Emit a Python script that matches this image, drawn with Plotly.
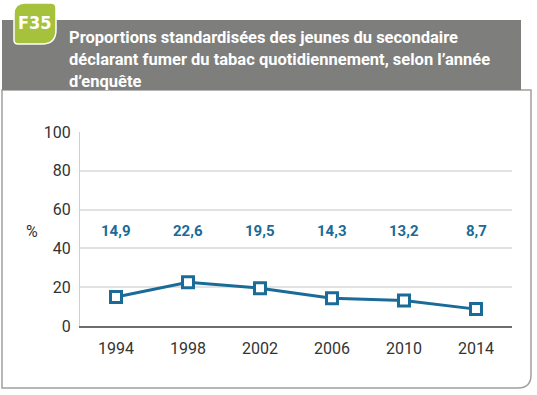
import plotly.graph_objects as go

years = ["1994", "1998", "2002", "2006", "2010", "2014"]
values = [14.9, 22.6, 19.5, 14.3, 13.2, 8.7]
value_labels = ["14,9", "22,6", "19,5", "14,3", "13,2", "8,7"]
y_ticks = [0, 20, 40, 60, 80, 100]
title_lines = [
    "Proportions standardisées des jeunes du secondaire",
    "déclarant fumer du tabac quotidiennement, selon l’année",
    "d’enquête",
]
badge = "F35"

W, H = 537, 395
L, R, T, B = 80, 512, 132, 326
BLUE = "#1b6b98"
FONT = "Roboto, Open Sans, sans-serif"
BFONT = "DejaVu Sans Condensed, Roboto, sans-serif"


def px(x):
    return (x - L) / (R - L)


def py(y):
    return (B - y) / (B - T)


fig = go.Figure()
fig.add_trace(go.Scatter(
    x=years, y=values, mode="lines+markers",
    line=dict(color=BLUE, width=3),
    marker=dict(symbol="square", size=11, color="white",
                line=dict(color=BLUE, width=3)),
    hoverinfo="skip", showlegend=False, cliponaxis=False,
))

shapes = []
r = 13
x0, x1, y0, y1 = 2, 531, 90, 388
path = (f"M {px(x0)},{py(y0)} L {px(x1)},{py(y0)} L {px(x1)},{py(y1 - r)} "
        f"Q {px(x1)},{py(y1)} {px(x1 - r)},{py(y1)} L {px(x0)},{py(y1)} Z")
shapes.append(dict(type="path", xref="paper", yref="paper", path=path,
                   line=dict(color="#a0a0a0", width=1.5), fillcolor="rgba(0,0,0,0)",
                   layer="below"))
shapes.append(dict(type="rect", xref="paper", yref="paper",
                   x0=px(2), x1=px(521), y0=py(90), y1=py(20),
                   line=dict(width=0), fillcolor="#7e7e7c", layer="below"))
bx0, bx1, by0, by1 = 14, 56, 3, 44
rtl, rtr, rbr, rbl = 11, 5, 14, 4
bpath = (f"M {px(bx0 + rtl)},{py(by0)} L {px(bx1 - rtr)},{py(by0)} "
         f"Q {px(bx1)},{py(by0)} {px(bx1)},{py(by0 + rtr)} "
         f"L {px(bx1)},{py(by1 - rbr)} Q {px(bx1)},{py(by1)} {px(bx1 - rbr)},{py(by1)} "
         f"L {px(bx0 + rbl)},{py(by1)} Q {px(bx0)},{py(by1)} {px(bx0)},{py(by1 - rbl)} "
         f"L {px(bx0)},{py(by0 + rtl)} Q {px(bx0)},{py(by0)} {px(bx0 + rtl)},{py(by0)} Z")
shapes.append(dict(type="path", xref="paper", yref="paper", path=bpath,
                   line=dict(color="white", width=1.5), fillcolor="#a6c23c"))

annotations = []
annotations.append(dict(xref="paper", yref="paper", x=px(35), y=py(22),
                        text=f"<b>{badge}</b>", showarrow=False,
                        font=dict(family=BFONT, size=18, color="white"),
                        xanchor="center", yanchor="middle"))
for i, line in enumerate(title_lines):
    annotations.append(dict(xref="paper", yref="paper", x=px(67), y=py(38 + i * 21.5),
                            text=f"<b>{line}</b>", showarrow=False,
                            font=dict(family=FONT, size=16.5, color="white"),
                            xanchor="left", yanchor="middle"))
for i, lab in enumerate(value_labels):
    annotations.append(dict(x=i, y=49, xref="x", yref="y", text=f"<b>{lab}</b>",
                            showarrow=False,
                            font=dict(family=FONT, size=15, color=BLUE),
                            xanchor="center", yanchor="middle"))
annotations.append(dict(xref="paper", yref="paper", x=px(32), y=py(231), text="%",
                        showarrow=False, font=dict(family=FONT, size=16, color="#333333"),
                        xanchor="center", yanchor="middle"))

fig.update_layout(
    width=W, height=H,
    margin=dict(l=L, r=W - R, t=T, b=H - B, pad=0),
    paper_bgcolor="white", plot_bgcolor="white",
    shapes=shapes, annotations=annotations,
    xaxis=dict(type="category", range=[-0.5, 5.5], showgrid=False,
               showline=True, linecolor="#6e6e6e", linewidth=1.5,
               ticks="", tickfont=dict(family=FONT, size=16, color="#333333"),
               ticklabelstandoff=7, fixedrange=True),
    yaxis=dict(range=[0, 100], tickvals=y_ticks, showgrid=True,
               gridcolor="#e2e2e2", gridwidth=1.5, zeroline=False,
               showline=True, linecolor="#d0d0d0", linewidth=1,
               ticks="", tickfont=dict(family=FONT, size=16, color="#333333"),
               ticklabelstandoff=5, fixedrange=True),
)

fig.write_html("out.html", post_script="document.body.style.margin='0';",
               config={"displayModeBar": False})
